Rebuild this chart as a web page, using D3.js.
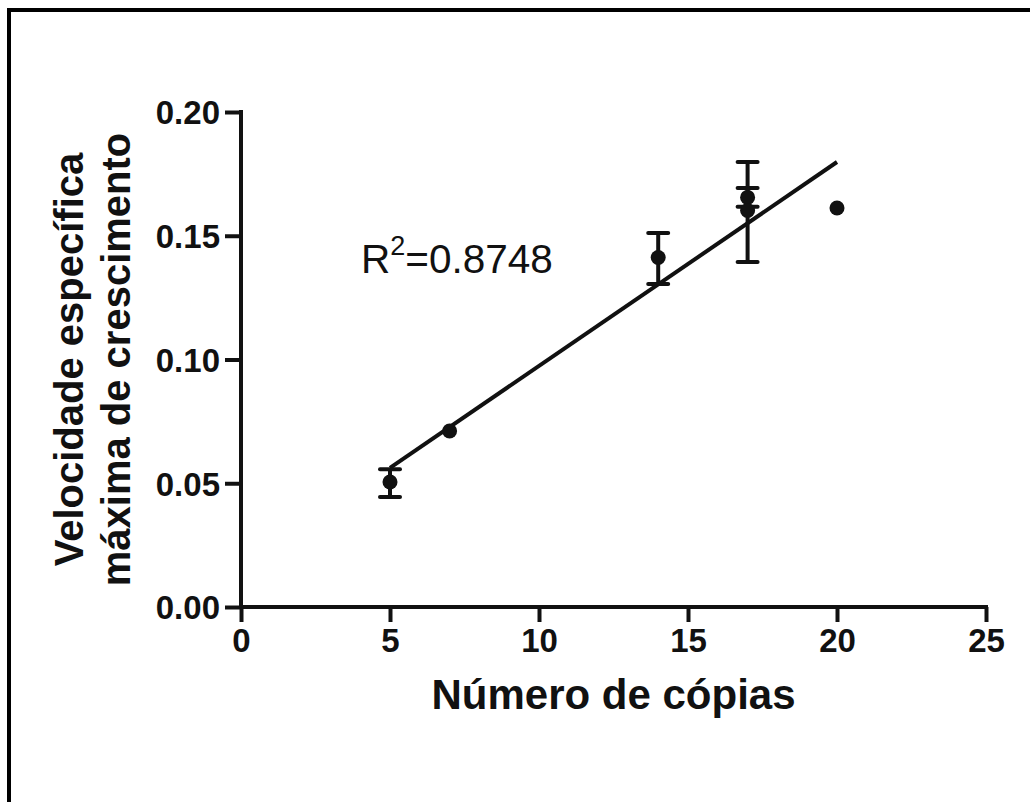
<!DOCTYPE html>
<html><head><meta charset="utf-8">
<script src="https://cdn.jsdelivr.net/npm/d3@7"></script>
<style>
html,body{margin:0;padding:0;background:#fff;}
svg{display:block;}
text{font-family:"Liberation Sans",Arial,sans-serif;fill:#111;}
</style></head>
<body>
<svg id="chart" width="1030" height="802"></svg>
<script>
// Data
const copies = [5, 7, 14, 17, 17, 20];
const velocity = [0.0505, 0.0711, 0.1412, 0.1655, 0.1602, 0.1612];
const errUpper = [0.0557, null, 0.1511, 0.1693, 0.1798, null];
const errLower = [0.0444, null, 0.1305, 0.1617, 0.1394, null];
const fitSlope = 0.00824;
const fitIntercept = 0.0150;
const fitRange = [5, 20];
const xTicks = [0, 5, 10, 15, 20, 25];
const yTicks = [0.00, 0.05, 0.10, 0.15, 0.20];
const xTitle = "Número de cópias";
const yTitle = ["Velocidade específica", "máxima de crescimento"];
const r2Label = "0.8748";

const svg = d3.select("#chart");
const ink = "#111";

// frame (top and left edges only visible)
svg.append("line").attr("x1", 9).attr("x2", 1030).attr("y1", 10).attr("y2", 10).attr("stroke", "#000").attr("stroke-width", 4);
svg.append("line").attr("x1", 9).attr("x2", 9).attr("y1", 8).attr("y2", 802).attr("stroke", "#000").attr("stroke-width", 4);

const x = d3.scaleLinear().domain([0, 25]).range([241, 986]);
const y = d3.scaleLinear().domain([0, 0.20]).range([607, 112]);

// axes
const xAxis = d3.axisBottom(x).tickValues(xTicks).tickSize(15).tickPadding(6).tickFormat(d3.format("d"));
const yAxis = d3.axisLeft(y).tickValues(yTicks).tickSize(16).tickPadding(5).tickFormat(d3.format(".2f"));

const gx = svg.append("g").attr("transform", `translate(0,${y(0)})`).call(xAxis);
const gy = svg.append("g").attr("transform", `translate(${x(0)},0)`).call(yAxis);
[gx, gy].forEach(g => {
  g.selectAll(".tick line").attr("stroke", ink).attr("stroke-width", 4);
  g.selectAll(".tick text").attr("font-size", 33).attr("font-weight", "bold").attr("fill", ink)
    .style("font-family", '"Liberation Sans",Arial,sans-serif');
});
gx.select(".domain").remove();
gy.select(".domain").remove();
svg.append("line").attr("x1", x(0) - 2).attr("x2", x(25) + 2).attr("y1", y(0)).attr("y2", y(0)).attr("stroke", ink).attr("stroke-width", 4);
svg.append("line").attr("x1", x(0)).attr("x2", x(0)).attr("y1", y(0.20) - 2).attr("y2", y(0)).attr("stroke", ink).attr("stroke-width", 4);
gx.selectAll(".tick text").attr("dy", "0.74em");
gy.selectAll(".tick text").attr("dy", "0.36em");

// fit line
svg.append("line")
  .attr("x1", x(fitRange[0])).attr("y1", y(fitIntercept + fitSlope * fitRange[0]))
  .attr("x2", x(fitRange[1])).attr("y2", y(fitIntercept + fitSlope * fitRange[1]))
  .attr("stroke", ink).attr("stroke-width", 4);

// error bars
const pts = copies.map((c, i) => ({x: c, y: velocity[i], hi: errUpper[i], lo: errLower[i]}));
const eb = svg.append("g").attr("stroke", ink).attr("stroke-width", 4);
pts.filter(d => d.hi != null).forEach(d => {
  eb.append("line").attr("x1", x(d.x)).attr("x2", x(d.x)).attr("y1", y(d.hi)).attr("y2", y(d.lo));
  eb.append("line").attr("x1", x(d.x) - 10).attr("x2", x(d.x) + 10).attr("y1", y(d.hi)).attr("y2", y(d.hi)).attr("stroke-linecap", "round");
  eb.append("line").attr("x1", x(d.x) - 10).attr("x2", x(d.x) + 10).attr("y1", y(d.lo)).attr("y2", y(d.lo)).attr("stroke-linecap", "round");
});

// points
svg.append("g").selectAll("circle").data(pts).join("circle")
  .attr("cx", d => x(d.x)).attr("cy", d => y(d.y)).attr("r", 7.5).attr("fill", ink);

// R² label
const rt = svg.append("text").attr("x", 361).attr("y", 273).attr("font-size", 40.5);
rt.append("tspan").text("R");
rt.append("tspan").attr("font-size", 27).attr("dy", -18).text("2");
rt.append("tspan").attr("dy", 18).text("=" + r2Label);

// axis titles
svg.append("text").attr("x", x(12.5)).attr("y", 709).attr("text-anchor", "middle")
  .attr("font-size", 42).attr("font-weight", "bold").text(xTitle);
const ty = svg.append("text").attr("transform", `translate(83,${(y(0)+y(0.2))/2}) rotate(-90)`)
  .attr("text-anchor", "middle").attr("font-size", 40).attr("font-weight", "bold");
ty.append("tspan").attr("x", 0).attr("y", 0).text(yTitle[0]);
ty.append("tspan").attr("x", 0).attr("y", 47).text(yTitle[1]);
</script>
</body></html>
